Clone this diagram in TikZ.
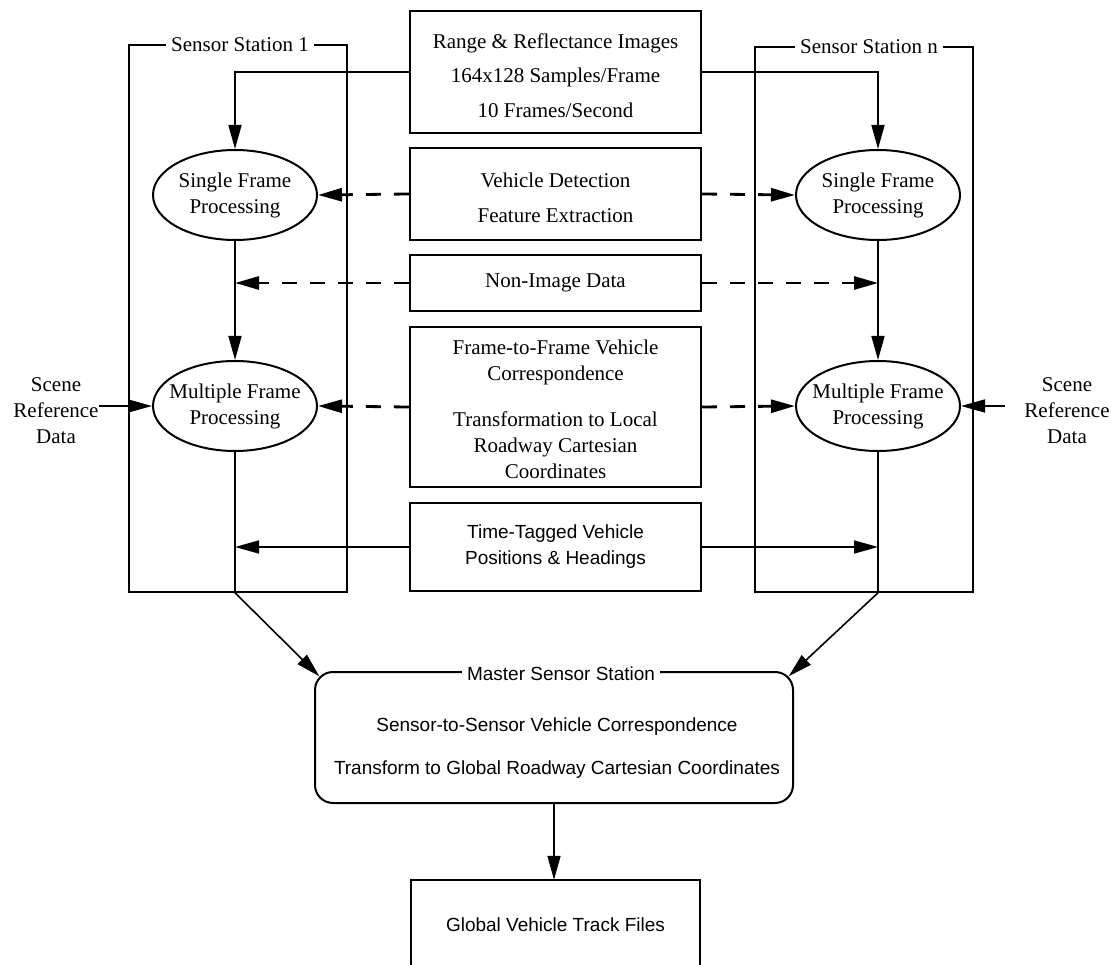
\documentclass[tikz,border=0pt]{standalone}
\usepackage{fontspec}
\setmainfont{Liberation Serif}
\setsansfont{Liberation Sans}
\usetikzlibrary{arrows.meta,shapes.geometric,calc}
\begin{document}
\begin{tikzpicture}[x=1pt,y=-1pt,
  tip/.style={-{Triangle[length=24pt,width=13pt]}},
  cbox/.style={draw,line width=2.4pt,minimum width=291pt,inner sep=0pt,align=center,font=\fontsize{21}{26}\selectfont},
  proc/.style={draw,ellipse,line width=2pt,minimum width=164pt,minimum height=90pt,inner xsep=-10pt,inner ysep=0pt,align=center,font=\fontsize{21}{26}\selectfont},
  station/.style={draw,line width=1.6pt,inner sep=0pt},
  ttl/.style={fill=white,inner xsep=5pt,inner ysep=1pt,font=\fontsize{21}{26}\selectfont},
  sans/.style={font=\sffamily\fontsize{19}{26}\selectfont},
  conn/.style={line width=1.6pt},
  dconn/.style={line width=2.8pt,dash pattern=on 15pt off 13pt},
]
\useasboundingbox (0,0) rectangle (1111,965);

% sensor station frames
\node[station,minimum width=218pt,minimum height=547pt] (ss1) at (238,318.5) {};
\node[station,minimum width=218pt,minimum height=545pt] (ssn) at (864,319.5) {};
\node[ttl] (t1) at (240,45) {Sensor Station 1};
\node[ttl] (tn) at (869,47) {Sensor Station n};

% central boxes
\node[cbox,minimum height=122pt,font=\fontsize{21}{34.5}\selectfont] (img) at (555.5,72) {\rule{0pt}{22pt}Range \& Reflectance Images\\164x128 Samples/Frame\\10 Frames/Second};
\node[cbox,minimum height=92pt,font=\fontsize{21}{35}\selectfont] (det) at (555.5,194) {\rule{0pt}{22pt}Vehicle Detection\\Feature Extraction};
\node[cbox,minimum height=56pt] (nid) at (555.5,283) {Non-Image Data};
\node[cbox,minimum height=160pt] (ftf) at (555.5,407) {\rule{0pt}{20pt}Frame-to-Frame Vehicle\\Correspondence\\[20pt]Transformation to Local\\Roadway Cartesian\\Coordinates};
\node[cbox,minimum height=88pt,sans] (ttv) at (555.5,547) {Time-Tagged Vehicle\\Positions \& Headings};

% processing ellipses
\node[proc] (sf1) at (235,195) {Single Frame\\Processing};
\node[proc] (sfn) at (878,195) {Single Frame\\Processing};
\node[proc] (mf1) at (235,406) {Multiple Frame\\Processing};
\node[proc] (mfn) at (878,406) {Multiple Frame\\Processing};

% scene reference data
\node[align=center,inner sep=0pt,font=\fontsize{21}{26}\selectfont] (scl) at (56,411) {Scene\\Reference\\Data};
\node[align=center,inner sep=0pt,font=\fontsize{21}{26}\selectfont] (scr) at (1067,411) {Scene\\Reference\\Data};
\coordinate (sr) at (1005,406);

% master station
\node[draw,line width=2pt,rounded corners=18pt,minimum width=478pt,minimum height=131pt] (mss) at (554,737.5) {};
\node[ttl,sans] (mt) at (561,674) {Master Sensor Station};
\node[align=center,font=\sffamily\fontsize{19}{43}\selectfont] (mtx) at (557,748.5) {Sensor-to-Sensor Vehicle Correspondence\\Transform to Global Roadway Cartesian Coordinates};

% track files
\node[minimum width=289pt,minimum height=90pt,inner sep=0pt,sans] (trk) at (555.5,925) {Global Vehicle Track Files};
\draw[line width=2pt] (trk.south west) -- (trk.north west) -- (trk.north east) -- (trk.south east);

% connectors
\draw[conn,tip] (img.west) -| (sf1.north);
\draw[conn,tip] (img.east) -| (sfn.north);
\draw[dconn,tip] (det.west) -- (sf1.east);
\draw[dconn,tip] (det.east) -- (sfn.west);
\draw[conn,tip] (sf1.south) -- (mf1.north);
\draw[conn,tip] (sfn.south) -- (mfn.north);
\draw[dconn,tip] (nid.west) -- (nid.west -| sf1.south);
\draw[dconn,tip] (nid.east) -- (nid.east -| sfn.south);
\draw[dconn,tip] (ftf.west) -- (mf1.east);
\draw[dconn,tip] (ftf.east) -- (mfn.west);
\draw[conn,tip] (scl.east |- mf1.west) -- (mf1.west);
\draw[conn,tip] (sr) -- (mfn.east);
\draw[conn,tip] (ttv.west) -- (ttv.west -| mf1.south);
\draw[conn,tip] (ttv.east) -- (ttv.east -| mfn.south);
\coordinate (b1) at (mf1.south |- ss1.south);
\coordinate (bn) at (mfn.south |- ssn.south);
\draw[conn,tip] (mf1.south) -- (b1) -- ($(mss.north west)+(5.3,5.3)$);
\draw[conn,tip] (mfn.south) -- (bn) -- ($(mss.north east)+(-5.3,5.3)$);
\draw[conn,tip] (mss.south) -- (mss.south |- trk.north);
\end{tikzpicture}
\end{document}
